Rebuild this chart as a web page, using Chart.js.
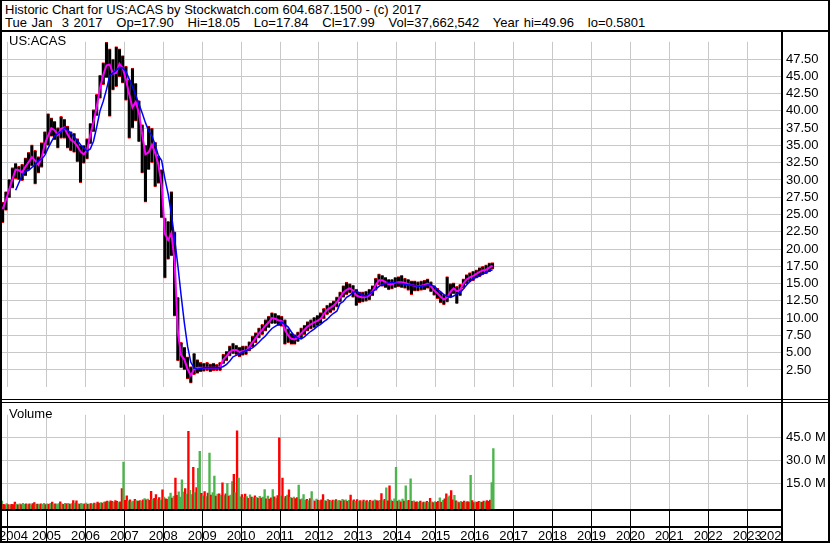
<!DOCTYPE html>
<html>
<head>
<meta charset="utf-8">
<script src="https://cdn.jsdelivr.net/npm/chart.js@4.4.1/dist/chart.umd.min.js"></script>
<style>
  body { margin: 0; background: #fff; }
  #wrap { position: relative; width: 830px; height: 543px; overflow: hidden; background: #fff;
          font-family: "Liberation Sans", Arial, sans-serif; color: #000; }
  .hdr { position: absolute; left: 5px; font-size: 13px; line-height: 13px; white-space: pre; }
  .tag { position: absolute; left: 9px; font-size: 13px; line-height: 13px; }
  .ln { position: absolute; background: #000; z-index: 5; }
  canvas { position: absolute; left: 0; }
</style>
</head>
<body>
<div id="wrap">
  <div class="hdr" style="top:3px">Historic Chart for US:ACAS by Stockwatch.com 604.687.1500 - (c) 2017</div>
  <div class="hdr" style="top:16px;word-spacing:1px">Tue Jan  3 2017   Op=17.90   Hi=18.05   Lo=17.84   Cl=17.99   Vol=37,662,542   Year hi=49.96   lo=0.5801</div>

  <canvas id="price" width="830" height="369" style="top:30px"></canvas>
  <canvas id="volume" width="830" height="140" style="top:403px"></canvas>

  <div class="tag" style="top:34px;z-index:6">US:ACAS</div>
  <div class="tag" style="top:407px;z-index:6">Volume</div>

  <!-- frame -->
  <div class="ln" style="left:0;top:0;width:830px;height:1px"></div>
  <div class="ln" style="left:0;top:0;width:2px;height:543px"></div>
  <div class="ln" style="left:828px;top:0;width:2px;height:543px"></div>
  <div class="ln" style="left:0;top:541px;width:830px;height:2px"></div>
  <div class="ln" style="left:0;top:30px;width:830px;height:2px"></div>
  <div class="ln" style="left:781px;top:30px;width:2px;height:513px"></div>
  <div class="ln" style="left:0;top:399px;width:830px;height:1px"></div>
  <div class="ln" style="left:0;top:402px;width:830px;height:1px"></div>
  <div class="ln" style="left:0;top:509px;width:782px;height:2px"></div>
  <div class="ln" style="left:0;top:526px;width:782px;height:2px"></div>
</div>

<script>
// monthly bars, May 2004 .. Dec 2016
const firstMonth = 2004 + 4 / 12;

const lows = [
  23.8, 25.6, 27.4, 28.8, 30.2, 30.0, 29.9, 30.6,
  31.4, 32.0, 29.4, 31.0, 31.8, 33.8, 35.0, 36.3, 35.8, 34.6, 36.0, 36.0,
  34.6, 34.2, 34.0, 32.6, 29.6, 32.4, 33.0, 35.2, 37.0, 39.3, 41.8, 43.8,
  44.8, 39.2, 43.0, 43.5, 44.9, 44.0, 41.5, 36.0, 37.5, 38.5, 35.5, 31.0,
  26.8, 31.5, 32.5, 29.0, 29.5, 24.5, 15.8, 18.5, 19.0, 10.3, 3.8, 2.8,
  2.5, 1.2, 0.58, 1.8, 2.0, 2.2, 2.3, 2.4, 2.2, 2.4, 2.4, 2.4,
  3.4, 3.8, 4.5, 4.8, 4.7, 4.4, 4.6, 4.7, 5.2, 5.8, 6.4, 7.1,
  7.6, 8.1, 8.6, 9.2, 9.2, 8.9, 8.8, 6.2, 6.4, 6.2, 6.2, 6.6,
  7.1, 7.6, 8.1, 8.4, 8.6, 8.9, 9.2, 9.9, 10.5, 10.8, 11.1, 11.6,
  12.3, 13.0, 13.4, 13.6, 13.0, 11.8, 12.2, 12.3, 12.4, 12.6, 13.2, 14.0,
  14.8, 14.6, 14.4, 14.1, 14.2, 14.4, 14.5, 14.4, 14.3, 14.0, 13.4, 13.9,
  13.9, 14.0, 14.1, 14.3, 13.8, 13.3, 12.8, 12.2, 11.9, 12.3, 13.0, 13.5,
  12.1, 13.2, 14.3, 14.9, 15.2, 15.4, 15.8, 16.0, 16.3, 16.4, 16.7, 17.1
];
const highs = [
  26.8, 28.3, 30.1, 31.8, 32.4, 32.0, 32.3, 33.2,
  34.0, 35.1, 34.3, 33.4, 35.4, 37.0, 39.6, 39.0, 38.5, 37.6, 39.2, 38.8,
  37.8, 37.0, 36.8, 36.0, 35.0, 35.0, 36.0, 38.2, 40.2, 42.4, 45.2, 47.0,
  49.96, 49.0, 47.5, 49.3, 49.0, 48.0, 46.5, 44.5, 46.2, 44.0, 41.5, 38.0,
  35.0, 37.8, 37.5, 35.5, 33.5, 31.5, 24.5, 24.0, 28.3, 22.5, 13.0, 6.5,
  5.8, 4.4, 3.0, 4.9, 4.0, 3.6, 3.5, 3.6, 3.4, 3.5, 3.3, 3.6,
  4.8, 5.2, 6.0, 6.4, 6.1, 5.8, 6.0, 6.0, 6.6, 7.4, 7.9, 8.6,
  9.1, 9.8, 10.3, 10.8, 10.7, 10.4, 10.3, 9.8, 8.5, 7.8, 7.6, 8.0,
  8.6, 9.0, 9.5, 9.8, 10.1, 10.4, 10.8, 11.4, 11.9, 12.2, 12.5, 13.1,
  13.8, 14.7, 15.2, 15.0, 14.8, 14.2, 13.8, 13.8, 13.9, 14.2, 14.7, 15.8,
  16.4, 16.2, 15.9, 15.6, 15.6, 15.9, 16.0, 16.2, 15.8, 15.6, 15.4, 15.4,
  15.3, 15.4, 15.5, 15.7, 15.3, 14.7, 14.3, 13.8, 13.4, 16.0, 15.0, 15.1,
  14.6, 14.9, 15.7, 16.3, 16.6, 16.8, 17.0, 17.3, 17.5, 17.7, 18.0, 18.05
];
// short moving average (magenta)
const avgShort = [
  25.8, 27.1, 28.6, 30.1, 31.5, 31.4, 31.1, 31.9,
  32.6, 33.3, 32.8, 32.2, 33.2, 35.2, 36.4, 37.5, 37.2, 36.5, 37.4, 37.6,
  36.6, 35.8, 35.5, 34.9, 34.1, 33.7, 34.3, 36.5, 38.4, 40.6, 43.3, 45.2,
  46.6, 46.7, 45.4, 45.5, 46.8, 46.2, 44.5, 42.4, 40.5, 41.3, 39.7, 36.6,
  33.7, 34.0, 35.1, 33.9, 32.2, 29.3, 22.2, 21.3, 22.3, 18.2, 8.0, 4.6,
  4.0, 2.6, 1.7, 2.6, 2.8, 2.8, 2.8, 2.8, 2.8, 2.8, 2.8, 2.9,
  4.0, 4.5, 5.1, 5.4, 5.4, 5.1, 5.2, 5.3, 5.8, 6.5, 7.1, 7.8,
  8.3, 8.9, 9.4, 10.0, 9.9, 9.7, 9.6, 8.3, 7.5, 7.0, 6.9, 7.3,
  7.8, 8.3, 8.8, 9.1, 9.4, 9.6, 9.9, 10.6, 11.2, 11.5, 11.8, 12.3,
  13.0, 13.7, 14.1, 14.3, 14.0, 13.3, 13.1, 13.0, 13.1, 13.3, 13.9, 14.8,
  15.5, 15.5, 15.2, 14.9, 14.9, 15.1, 15.2, 15.2, 15.1, 14.9, 14.8, 14.7,
  14.6, 14.7, 14.8, 15.0, 14.6, 14.0, 13.6, 13.1, 12.7, 13.0, 13.8, 14.3,
  13.9, 14.1, 15.0, 15.6, 15.9, 16.1, 16.4, 16.7, 16.9, 17.0, 17.3, 17.6
];
// long moving average (blue)
const avgLong = [
  null, null, null, null, 28.5, 29.6, 30.7, 31.2,
  31.4, 31.8, 32.2, 32.8, 33.0, 33.6, 34.6, 35.5, 36.4, 36.7, 37.0, 37.5,
  37.2, 36.8, 36.2, 35.7, 35.1, 34.6, 34.2, 34.5, 35.6, 37.7, 40.0, 41.4,
  43.1, 45.1, 45.5, 45.9, 46.3, 46.2, 45.7, 44.6, 43.5, 42.3, 41.0, 39.7,
  38.3, 37.1, 36.4, 35.1, 33.5, 32.8, 30.2, 28.0, 25.1, 21.5, 17.6, 13.3,
  9.3, 5.9, 3.6, 2.8, 2.6, 2.7, 2.8, 2.8, 2.8, 2.8, 2.8, 2.8,
  3.0, 3.3, 3.8, 4.4, 4.6, 4.8, 5.1, 5.3, 5.5, 5.7, 6.1, 6.5,
  7.0, 7.4, 8.0, 8.5, 8.8, 9.1, 9.4, 9.1, 8.7, 8.0, 7.4, 7.1,
  7.0, 7.3, 7.7, 8.1, 8.4, 8.8, 9.1, 9.5, 9.8, 10.3, 10.7, 11.0,
  12.1, 12.4, 13.0, 13.3, 13.7, 13.9, 13.6, 13.3, 13.2, 13.5, 13.8, 14.2,
  14.6, 14.9, 15.0, 15.1, 15.2, 15.1, 15.0, 15.0, 14.9, 14.8, 14.8, 14.7,
  14.6, 14.6, 14.7, 14.8, 14.8, 14.6, 14.2, 13.8, 13.4, 13.2, 13.0, 13.2,
  13.5, 13.7, 14.2, 14.8, 15.3, 15.7, 15.9, 16.1, 16.4, 16.6, 16.8, 17.0
];

// volume in millions, two bars a month, May 2004 .. Dec 2016
const volume = [
  3.6, 1.5, 1.2, 2.0, 1.4, 1.0, 1.6, 1.3, 3.0, 1.7, 1.2, 1.9, 1.4, 2.2, 1.5, 1.8,
  1.4, 1.8, 1.2, 2.0, 2.6, 1.5, 1.7, 1.3, 1.9, 1.6, 2.2, 1.4, 1.8, 1.5, 2.1, 3.0, 1.7, 1.9, 1.4, 2.0, 3.1, 1.8, 1.5, 2.2,
  1.8, 2.2, 1.6, 2.0, 3.9, 2.4, 3.8, 1.9, 1.7, 2.1, 1.5, 1.8, 2.3, 1.6, 1.9, 2.0, 1.7, 2.4, 1.9, 3.0, 2.2, 2.6, 2.4, 3.0,
  3.2, 3.6, 2.8, 3.8, 3.4, 2.9, 3.9, 3.5, 2.7, 3.1, 11.7, 29.0, 4.2, 7.1, 3.8, 4.5, 3.2, 3.6, 4.8, 3.9, 3.4, 4.0, 3.6, 4.4,
  5.2, 4.4, 5.0, 4.1, 10.0, 4.8, 5.5, 7.9, 4.6, 5.9, 4.3, 11.0, 6.2, 5.1, 4.7, 6.4, 8.8, 5.6, 6.9, 18.5, 7.4, 9.6, 6.3, 17.5,
  9.5, 11.7, 8.2, 48.8, 10.6, 7.8, 25.6, 9.2, 12.4, 24.8, 35.9, 8.7, 7.1, 9.8, 6.5, 8.9, 34.8, 7.6, 9.1, 19.8, 6.8, 8.2, 8.4, 7.3,
  15.5, 7.2, 8.4, 15.2, 6.8, 7.5, 16.3, 21.0, 9.1, 49.2, 18.6, 6.4, 7.8, 5.9, 8.1, 6.6, 5.4, 7.7, 6.2, 5.8, 7.0, 6.1, 5.5, 6.7,
  5.6, 6.2, 11.1, 5.1, 6.8, 4.9, 5.7, 11.1, 6.4, 5.3, 7.2, 44.6, 6.9, 18.6, 5.8, 6.7, 7.5, 11.0, 6.1, 5.4, 6.3, 5.2, 5.9, 14.0,
  4.6, 5.1, 7.9, 4.2, 4.8, 3.9, 5.3, 9.8, 4.4, 3.7, 4.9, 4.1, 3.8, 4.5, 7.9, 4.0, 3.6, 4.7, 4.2, 3.5, 4.3, 3.9, 4.6, 3.8,
  4.2, 3.6, 4.8, 3.9, 4.5, 3.4, 4.1, 7.6, 3.8, 4.4, 3.5, 4.6, 3.7, 4.0, 3.3, 4.3, 3.6, 3.9, 3.2, 4.1, 3.5, 3.8, 4.4, 3.9,
  3.6, 4.2, 8.5, 3.9, 4.7, 12.3, 3.8, 13.6, 4.4, 3.5, 5.1, 25.6, 3.7, 4.3, 3.2, 4.9, 3.6, 13.6, 3.9, 4.1, 18.0, 3.4, 3.8, 3.0,
  3.2, 2.8, 3.6, 2.5, 3.0, 2.7, 3.4, 2.9, 5.5, 3.1, 2.6, 3.3, 2.8, 3.5, 5.8, 3.0, 4.2, 5.1, 8.4, 6.2, 7.0, 10.4, 4.5, 7.4,
  3.8, 3.1, 2.7, 3.4, 2.9, 3.6, 2.8, 3.3, 3.0, 20.4, 3.9, 2.6, 3.2, 2.9, 3.5, 3.1, 2.8, 3.7, 3.2, 4.0, 3.4, 4.3, 15.6, 37.7
];
// g = up, r = down, x = unchanged
const volumeDir =
  'grrgrgrrrgrgrggr' +
  'grgrrgrgrggrgrgrgrggrgrg' +
  'rgrgrgrgrggrgrgrgrgrrgrg' +
  'rrgrrgrrgrrgrrgrggrgrrgr' +
  'grgrrgrrgrgrgrrggrgrrggg' +
  'grgrggrgrggrgrgrgrggrgrg' +
  'rgrgrggrgrggrgrgrgrgrgrg' +
  'rggrgrrgrgrrgrgrgrgrgrrg' +
  'rgggrgrgxrgrgrrgrgrgrgrg' +
  'grgrgrgrgrgrgrgrgrgrgrgr' +
  'rgrgrgrrgrggrgrgrggrgrgr' +
  'rgrgrgrgrgrgrrgrgrrggrrg' +
  'rgrgrrgrrgrrgrrgrrgrrrgg';

const yearLabels = [2004, 2005, 2006, 2007, 2008, 2009, 2010, 2011, 2012, 2013, 2014,
  2015, 2016, 2017, 2018, 2019, 2020, 2021, 2022, 2023, 2024];
const priceTicks = [2.5, 5, 7.5, 10, 12.5, 15, 17.5, 20, 22.5, 25, 27.5, 30, 32.5, 35,
  37.5, 40, 42.5, 45, 47.5];
const volumeTicks = [15, 30, 45];

const xMin = 2004.306, xMax = 2024.394;
const gridGrey = '#c8c8c8';

Chart.defaults.font.family = '"Liberation Sans", Arial, sans-serif';
Chart.defaults.font.size = 13;
Chart.defaults.color = '#000';

function monthX(i) { return firstMonth + (i + 0.5) / 12; }
function halfMonthX(i) { return firstMonth + (i + 0.5) / 24; }

function yearGrid(scale) {
  scale.ticks = yearLabels.filter(y => y > scale.min && y < scale.max).map(v => ({ value: v }));
}

function rightAxis(ticks, fmt, min, max) {
  return {
    type: 'linear', position: 'right', min: min, max: max,
    afterBuildTicks: s => { s.ticks = ticks.map(v => ({ value: v })); },
    afterFit: s => { s.width = 48; },
    grid: { color: gridGrey, lineWidth: 1, drawTicks: false },
    border: { display: false },
    ticks: { padding: 4, callback: fmt, autoSkip: false }
  };
}

// year names centred in the visible part of each year box
const yearRow = {
  id: 'yearRow',
  afterDraw(chart) {
    const xs = chart.scales.x, a = chart.chartArea, ctx = chart.ctx;
    ctx.save();
    ctx.beginPath();
    ctx.rect(a.left, a.bottom, a.right - a.left, chart.height - a.bottom);
    ctx.clip();
    ctx.font = '13px "Liberation Sans", Arial, sans-serif';
    ctx.fillStyle = '#000';
    ctx.textAlign = 'center';
    yearLabels.forEach(y => {
      const l = Math.max(xs.getPixelForValue(y), a.left);
      const r = Math.min(xs.getPixelForValue(y + 1), a.right);
      ctx.fillText(String(y), (l + r) / 2, 137);
    });
    ctx.restore();
  }
};

new Chart(document.getElementById('price'), {
  type: 'bar',
  data: {
    datasets: [
      {
        type: 'line', label: 'long', order: 0,
        data: avgLong.map((v, i) => ({ x: monthX(i), y: v })),
        borderColor: '#0000ff', borderWidth: 1.5, pointRadius: 0, tension: 0
      },
      {
        type: 'line', label: 'short', order: 1,
        data: avgShort.map((v, i) => ({ x: monthX(i), y: v })),
        borderColor: '#ff00ff', borderWidth: 2, pointRadius: 0, tension: 0
      },
      {
        label: 'range', order: 2,
        data: lows.map((v, i) => ({ x: monthX(i), y: [v, highs[i]] })),
        backgroundColor: '#000', barThickness: 3.2,
        borderColor: '#ff0000', borderSkipped: false,
        borderWidth: { top: 1, bottom: 1, left: 0, right: 0 }
      }
    ]
  },
  options: {
    responsive: false, animation: false, events: [],
    layout: { padding: 0, autoPadding: false },
    plugins: { legend: { display: false }, tooltip: { enabled: false } },
    scales: {
      x: {
        type: 'linear', min: xMin, max: xMax, offset: false,
        afterBuildTicks: yearGrid,
        afterFit: s => { s.height = 0; },
        grid: { color: gridGrey, lineWidth: 1, drawTicks: false },
        border: { display: false },
        ticks: { display: false }
      },
      y: rightAxis(priceTicks, v => v.toFixed(2), 0, 50)
    }
  }
});

new Chart(document.getElementById('volume'), {
  type: 'bar',
  data: {
    datasets: [{
      label: 'Volume',
      data: volume.map((v, i) => ({ x: halfMonthX(i), y: v })),
      backgroundColor: volume.map((v, i) =>
        volumeDir[i] === 'r' ? '#ff0000' : volumeDir[i] === 'x' ? '#b4b4b4' : '#4cb44c'),
      barThickness: 1.7, borderWidth: 0, base: -1.5
    }]
  },
  options: {
    responsive: false, animation: false, events: [],
    layout: { padding: 0, autoPadding: false },
    plugins: { legend: { display: false }, tooltip: { enabled: false } },
    scales: {
      x: {
        type: 'linear', min: xMin, max: xMax, offset: false,
        afterBuildTicks: yearGrid,
        afterFit: s => { s.height = 34; },
        grid: { color: gridGrey, lineWidth: 1, drawTicks: true, tickLength: 32, tickColor: '#000' },
        border: { display: false },
        ticks: { display: false }
      },
      y: rightAxis(volumeTicks, v => v.toFixed(1) + ' M', -1.5, 59.6)
    }
  },
  plugins: [yearRow]
});
</script>
</body>
</html>
